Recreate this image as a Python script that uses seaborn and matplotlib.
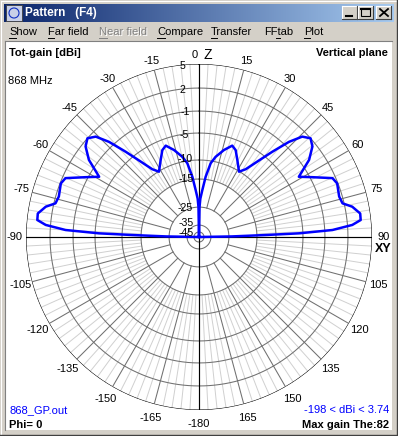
"""
4nec2 style vertical-plane pattern window (868 MHz ground plane)
"""

import numpy as np
import pandas as pd
import seaborn as sns
import matplotlib.pyplot as plt
from matplotlib.patches import Rectangle, Circle
from matplotlib.colors import LinearSegmentedColormap

# right half of the pattern, theta from zenith in degrees, gain in dBi
# (the plot is symmetric, the left half is the mirror image)
theta_half = [0, 1, 2, 4, 6.3, 9.0, 11.7, 16.0, 20.0, 22.9, 26.4, 31.5, 34.6,
              37.7, 40.7, 43.4, 45.8, 48.5, 51.4, 55.0, 58.9, 62.2, 66.2, 68.8,
              73.9, 76.8, 78.8, 81.7, 84.0, 85.5, 87.0, 87.9, 88.3, 89.0, 90]
gain_half = [-198, -25, -22, -19, -14.3, -10.6, -9.1, -7.5, -6.25, -6.8, -8.3,
             -10.1, -9.0, -6.6, -3.45, -0.35, 1.35, 2.0, 1.5, 0.1, -2.7, -0.7,
             1.6, 1.9, 1.6, 1.8, 2.9, 3.74, 3.7, 2.6, 0.0, -5.7, -12.7, -24,
             -198]

# radial scale of the plot (dB rings and their relative radius)
ring_levels = [5, 2, -1, -5, -10, -15, -25, -35, -45]
ring_radius = [1.0, 0.861, 0.728, 0.601, 0.445, 0.335, 0.173, 0.069, 0.029]

angle_ticks = list(range(-165, 181, 15))

W, H = 398, 436
CX, CY, R = 199, 237, 173
FONT = ["Liberation Sans", "DejaVu Sans"]


def gain_to_r(g):
    lev = [-198] + ring_levels[::-1]
    rad = [0.0] + ring_radius[::-1]
    return np.interp(g, lev, rad)


def bevel(ax, x, y, w, h):
    ax.add_patch(Rectangle((x, y), w, h, facecolor="#d4d0c8", edgecolor="none"))
    ax.plot([x, x + w], [y, y], color="white", lw=0.8)
    ax.plot([x, x], [y, y + h], color="white", lw=0.8)
    ax.plot([x, x + w], [y + h, y + h], color="#404040", lw=0.8)
    ax.plot([x + w, x + w], [y, y + h], color="#404040", lw=0.8)


def main():
    plt.rcParams["font.family"] = FONT
    plt.rcParams["font.size"] = 8

    fig = plt.figure(figsize=(W / 100, H / 100), dpi=100)
    fig.patch.set_facecolor("#d4d0c8")

    # window chrome, drawn in pixel coordinates
    bg = fig.add_axes([0, 0, 1, 1])
    bg.set_axis_off()
    grad = LinearSegmentedColormap.from_list("title", ["#0a246a", "#a6caf0"])
    bg.imshow(np.linspace(0, 1, 256)[None, :], extent=(4, 394, 22, 4),
              cmap=grad, aspect="auto")
    bg.set_xlim(0, W)
    bg.set_ylim(H, 0)

    bg.plot([1, 396], [1, 1], color="white", lw=0.8)
    bg.plot([1, 1], [1, 434], color="white", lw=0.8)
    bg.plot([397, 397], [0, 436], color="#404040", lw=1)
    bg.plot([0, 398], [435, 435], color="#404040", lw=1)

    # icon
    bg.add_patch(Rectangle((6, 5), 16, 16, facecolor="#c8d0e8",
                           edgecolor="#404040", lw=0.6))
    bg.add_patch(Circle((14, 13), 5, facecolor="none", edgecolor="#1030c0", lw=0.8))
    bg.text(25, 13, "Pattern   (F4)", color="white", fontweight="bold",
            va="center", ha="left", fontsize=8.5)

    # caption buttons
    for bx in (342, 358, 376):
        bevel(bg, bx, 6, 15, 13)
    bg.plot([346, 352], [16, 16], color="black", lw=1.5)
    bg.add_patch(Rectangle((361, 8.5), 9, 8, facecolor="none",
                           edgecolor="black", lw=0.8))
    bg.plot([361, 370], [9, 9], color="black", lw=1.5)
    bg.plot([380, 388], [9, 16], color="black", lw=1.3)
    bg.plot([380, 388], [16, 9], color="black", lw=1.3)

    # menu
    menu = [("Show", 9, 0, 7), ("Far field", 48, 0, 6), ("Compare", 157, 0, 8),
            ("Transfer", 211, 0, 6), ("FFtab", 264, 12, 4), ("Plot", 304, 0, 6)]
    for label, mx, ux, uw in menu:
        bg.text(mx, 32, label, va="center", ha="left", color="black")
        bg.plot([mx + ux, mx + ux + uw], [38, 38], color="black", lw=0.7)
    bg.text(100, 33, "Near field", va="center", ha="left", color="white")
    bg.text(99, 32, "Near field", va="center", ha="left", color="#808080")
    bg.plot([99, 107], [38, 38], color="#808080", lw=0.7)

    # client area
    bg.add_patch(Rectangle((5, 42), 387, 388, facecolor="white", edgecolor="none"))
    bg.plot([4.5, 392], [41.5, 41.5], color="#808080", lw=0.8)
    bg.plot([4.5, 4.5], [41.5, 430], color="#808080", lw=0.8)

    bg.text(9, 52.5, "Tot-gain [dBi]", fontweight="bold", va="center")
    bg.text(388, 52.5, "Vertical plane", fontweight="bold", va="center", ha="right")
    bg.text(8, 81, "868 MHz", va="center")
    bg.text(9, 410, "868_GP.out", va="center", color="#0000ff")
    bg.text(9, 424.5, "Phi= 0", fontweight="bold", va="center")
    bg.text(389, 410, "-198 < dBi < 3.74", va="center", ha="right", color="#0000ff")
    bg.text(389, 424.5, "Max gain The:82", fontweight="bold", va="center", ha="right")

    # polar plot
    ax = fig.add_axes([(CX - R) / W, 1 - (CY + R) / H, 2 * R / W, 2 * R / H],
                      projection="polar")
    ax.set_theta_zero_location("N")
    ax.set_theta_direction(-1)
    ax.patch.set_alpha(0)

    full = np.linspace(0, 2 * np.pi, 721)
    for lev, rr in zip(ring_levels, ring_radius):
        ax.plot(full, np.full_like(full, rr),
                color="black" if lev == 5 else "#707070", lw=0.75, zorder=2)

    r_dark = gain_to_r(-25)
    r_light = gain_to_r(-15)
    for a in range(0, 360, 3):
        t = np.radians(a)
        if a % 90 == 0:
            ax.plot([t, t], [0, 1], color="black", lw=0.85, zorder=3)
        elif a % 15 == 0:
            ax.plot([t, t], [r_dark, 1], color="#707070", lw=0.75, zorder=2)
        else:
            ax.plot([t, t], [r_light, 1], color="#d0d0d0", lw=0.7, zorder=1)

    theta_all = [-t for t in theta_half[::-1]] + theta_half[1:]
    gain_all = gain_half[::-1] + gain_half[1:]
    df = pd.DataFrame({"theta": np.radians(theta_all),
                       "r": gain_to_r(np.array(gain_all))})
    sns.lineplot(data=df, x="theta", y="r", ax=ax, sort=False, estimator=None,
                 color="#0000ff", lw=1.8, zorder=4)

    # angle labels
    for a in angle_ticks:
        if a == 0:
            continue
        t = np.radians(a)
        rl = 1.052 + 0.0145 * (1 - np.cos(t))
        txt = "-180" if a == 180 else str(a)
        ax.text(t, rl, txt, ha="center", va="center", clip_on=False)
    ax.annotate("0", xy=(0, 1.052), xytext=(-4, 0), textcoords="offset pixels",
                ha="center", va="center", annotation_clip=False)
    ax.annotate("Z", xy=(0, 1.052), xytext=(9, 0), textcoords="offset pixels",
                ha="center", va="center", fontsize=10, annotation_clip=False)
    ax.annotate("XY", xy=(np.pi / 2, 1.066), xytext=(0, -12),
                textcoords="offset pixels", ha="center", va="center",
                fontsize=9, fontweight="bold", annotation_clip=False)

    # ring labels along the vertical axis
    shifts = [(-14, -2), (-14, -2), (-9, -1), (-10, -2), (-6, 1), (-5, 0),
              (-6, -1), (-5, 2), (-5, -1)]
    for lev, rr, (dx, dy) in zip(ring_levels, ring_radius, shifts):
        ax.annotate(str(lev), xy=(0, rr), xytext=(dx, dy),
                    textcoords="offset pixels", ha="right", va="center",
                    fontsize=7.6, zorder=5, annotation_clip=False)

    ax.set_ylim(0, 1)
    ax.set_axis_off()

    fig.savefig("out.png", dpi=100, facecolor=fig.get_facecolor())


if __name__ == "__main__":
    main()
